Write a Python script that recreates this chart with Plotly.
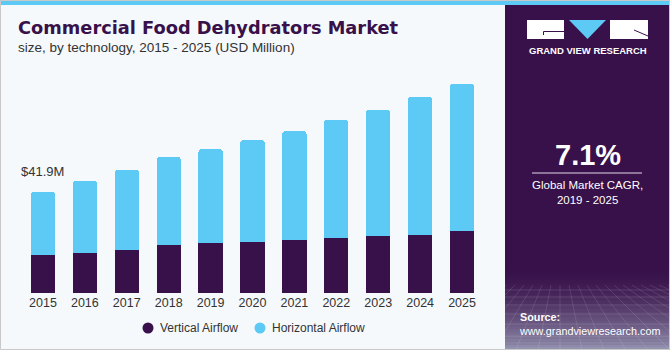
import plotly.graph_objects as go

# ---------------- data ----------------
years = ["2015", "2016", "2017", "2018", "2019", "2020", "2021", "2022", "2023", "2024", "2025"]
vertical_airflow = [15.8, 16.6, 17.8, 19.9, 20.7, 21.2, 22.0, 22.8, 23.6, 24.1, 25.7]
horizontal_airflow = [26.1, 29.9, 33.2, 36.5, 39.0, 42.3, 45.2, 49.0, 52.3, 57.2, 61.0]
series_names = ["Vertical Airflow", "Horizontal Airflow"]
first_value_label = "$41.9M"
title_text = "Commercial Food Dehydrators Market"
subtitle_text = "size, by technology, 2015 - 2025 (USD Million)"
cagr_text = "7.1%"
cagr_caption = "Global Market CAGR,<br>2019 - 2025"

# ---------------- styles ----------------
W, H = 670, 350
PURPLE = "#38114A"
BLUE = "#5CCAF5"
BG = "#F5F9FC"
TXT = "#333333"
FONT = "Liberation Sans, Arial, sans-serif"
TFONT = "DejaVu Sans, Liberation Sans, sans-serif"
SERIES_COLORS = [PURPLE, BLUE]
LEGEND_MARKER_X = [148, 260]
LEGEND_Y = 328


def fx(px):
    return px / W


def fy(py):
    return 1 - py / H


fig = go.Figure()
fig.add_trace(go.Bar(x=years, y=vertical_airflow, name=series_names[0],
                     marker=dict(color=SERIES_COLORS[0], line=dict(width=0)), showlegend=False))
fig.add_trace(go.Bar(x=years, y=horizontal_airflow, name=series_names[1],
                     marker=dict(color=SERIES_COLORS[1], line=dict(width=0)), showlegend=False))

shapes = []
annotations = []

# top stripe
shapes.append(dict(type="rect", xref="paper", yref="paper", x0=0, x1=1, y0=fy(5), y1=1,
                   fillcolor=BLUE, line=dict(width=0), layer="below"))
# right panel
shapes.append(dict(type="rect", xref="paper", yref="paper", x0=fx(505), x1=1, y0=0, y1=fy(5),
                   fillcolor=PURPLE, line=dict(width=0), layer="below"))
# gradient at bottom of panel
top_y, bot_y = 268, 350
c0 = (56, 17, 74)
c1 = (150, 150, 178)
n = 28
for i in range(n):
    t = (i + 0.5) / n
    t2 = t ** 1.6
    c = tuple(int(c0[k] + (c1[k] - c0[k]) * t2) for k in range(3))
    ya = top_y + (bot_y - top_y) * i / n
    yb = top_y + (bot_y - top_y) * (i + 1) / n + 0.5
    shapes.append(dict(type="rect", xref="paper", yref="paper", x0=fx(505), x1=1,
                       y0=fy(yb), y1=fy(ya), fillcolor="rgb(%d,%d,%d)" % c,
                       line=dict(width=0), layer="below"))
# perspective grid in panel
for gy in [290, 297, 305, 314, 324, 336]:
    shapes.append(dict(type="line", xref="paper", yref="paper", x0=fx(505), x1=1,
                       y0=fy(gy), y1=fy(gy), line=dict(color="rgba(255,255,255,0.13)", width=1),
                       layer="below"))
for k in range(-6, 14):
    xt = 560 + k * 9
    xb = 560 + k * 22
    shapes.append(dict(type="line", xref="paper", yref="paper", x0=fx(xt), x1=fx(xb),
                       y0=fy(285), y1=fy(350), line=dict(color="rgba(255,255,255,0.11)", width=1),
                       layer="below"))

# logo
shapes.append(dict(type="rect", xref="paper", yref="paper", x0=fx(527), x1=fx(564), y0=fy(39), y1=fy(20),
                   fillcolor="white", line=dict(width=0)))
shapes.append(dict(type="rect", xref="paper", yref="paper", x0=fx(610), x1=fx(648), y0=fy(39), y1=fy(20),
                   fillcolor="white", line=dict(width=0)))
shapes.append(dict(type="path", xref="paper", yref="paper",
                   path="M %f %f L %f %f L %f %f Z" % (fx(569), fy(20), fx(606), fy(20), fx(587.5), fy(39)),
                   fillcolor=BLUE, line=dict(width=0)))
shapes.append(dict(type="path", xref="paper", yref="paper",
                   path="M %f %f L %f %f L %f %f" % (fx(543.5), fy(35), fx(543.5), fy(31.5), fx(564), fy(31.5)),
                   line=dict(color=PURPLE, width=1)))
shapes.append(dict(type="line", xref="paper", yref="paper", x0=fx(634), x1=fx(648), y0=fy(30), y1=fy(36),
                   line=dict(color=PURPLE, width=1)))
annotations.append(dict(text="<b>GRAND VIEW RESEARCH</b>", xref="paper", yref="paper", x=fx(587.5), y=fy(51),
                        xanchor="center", yanchor="middle", showarrow=False,
                        font=dict(family=FONT, size=9.5, color="white")))

# CAGR block
annotations.append(dict(text="<b>%s</b>" % cagr_text, xref="paper", yref="paper", x=fx(587.5), y=fy(155),
                        xanchor="center", yanchor="middle", showarrow=False,
                        font=dict(family=FONT, size=29, color="white")))
shapes.append(dict(type="line", xref="paper", yref="paper", x0=fx(532), x1=fx(642), y0=fy(173), y1=fy(173),
                   line=dict(color="rgba(255,255,255,0.85)", width=1)))
annotations.append(dict(text=cagr_caption, xref="paper", yref="paper", x=fx(587.5), y=fy(193),
                        xanchor="center", yanchor="middle", showarrow=False, align="center",
                        font=dict(family=FONT, size=11.5, color="white")))
# source
annotations.append(dict(text="<b>Source:</b><br>www.grandviewresearch.com", xref="paper", yref="paper",
                        x=fx(517), y=fy(323.5), xanchor="left", yanchor="middle", showarrow=False,
                        align="left", font=dict(family=FONT, size=10.8, color="white")))

# title & subtitle
annotations.append(dict(text="<b>%s</b>" % title_text, xref="paper", yref="paper", x=fx(16), y=fy(28),
                        xanchor="left", yanchor="middle", showarrow=False,
                        font=dict(family=TFONT, size=17.8, color=PURPLE)))
annotations.append(dict(text=subtitle_text, xref="paper", yref="paper", x=fx(16), y=fy(48),
                        xanchor="left", yanchor="middle", showarrow=False,
                        font=dict(family=FONT, size=13.5, color=TXT)))

# first value label (x given as category index of the first year)
annotations.append(dict(text=first_value_label, xref="x", yref="y", x=years.index(years[0]),
                        y=vertical_airflow[0] + horizontal_airflow[0], yshift=21,
                        xanchor="center", yanchor="middle", showarrow=False,
                        font=dict(family=FONT, size=13, color=TXT)))

# legend (round markers + labels)
for nm, col, mx in zip(series_names, SERIES_COLORS, LEGEND_MARKER_X):
    shapes.append(dict(type="circle", xref="paper", yref="paper",
                       x0=fx(mx - 5.5), x1=fx(mx + 5.5), y0=fy(LEGEND_Y + 5.5), y1=fy(LEGEND_Y - 5.5),
                       fillcolor=col, line=dict(width=0)))
    annotations.append(dict(text=nm, xref="paper", yref="paper", x=fx(mx + 9.5), y=fy(LEGEND_Y),
                            xanchor="left", yanchor="middle", showarrow=False,
                            font=dict(family=FONT, size=12, color=TXT)))

# outer frame
shapes.append(dict(type="rect", xref="paper", yref="paper", x0=fx(0.5), x1=fx(669.5), y0=fy(349.5), y1=fy(0.5),
                   line=dict(color="#C9C9C9", width=1), fillcolor="rgba(0,0,0,0)"))

fig.update_layout(
    width=W, height=H,
    margin=dict(l=0, r=0, t=0, b=0),
    paper_bgcolor=BG, plot_bgcolor=BG,
    barmode="stack", bargap=0.42, barcornerradius=3,
    font=dict(family=FONT, color=TXT),
    xaxis=dict(type="category", domain=[fx(22), fx(483)], range=[-0.5, 10.5],
               showgrid=False, zeroline=False, showline=False, ticks="",
               tickfont=dict(size=12.5, color=TXT), automargin=False, fixedrange=True),
    yaxis=dict(domain=[fy(293), fy(60)], range=[0, 96.7], visible=False, fixedrange=True),
    shapes=shapes, annotations=annotations, showlegend=False,
)

fig.write_html("out.html", config={"displayModeBar": False})
